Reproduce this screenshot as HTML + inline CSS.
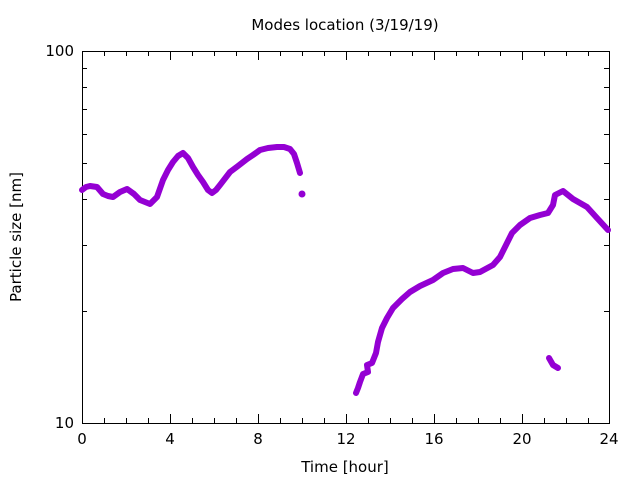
<!DOCTYPE html>
<html><head><meta charset="utf-8"><style>body{margin:0;background:#fff}svg{display:block}</style></head><body>
<svg width="640" height="480" xmlns="http://www.w3.org/2000/svg" font-family="DejaVu Sans, Liberation Sans, sans-serif" font-size="15">
<rect width="640" height="480" fill="#fff"/>
<g stroke="#000" stroke-width="1" fill="none">
<rect x="82.5" y="51.5" width="527" height="372"/>
<path d="
M82.5,423v-9M82.5,51v9M104.5,423v-5M104.5,51v5M126.5,423v-5M126.5,51v5M148.5,423v-5M148.5,51v5
M170.5,423v-9M170.5,51v9M192.5,423v-5M192.5,51v5M214.5,423v-5M214.5,51v5M236.5,423v-5M236.5,51v5
M258.5,423v-9M258.5,51v9M280.5,423v-5M280.5,51v5M302.5,423v-5M302.5,51v5M324.5,423v-5M324.5,51v5
M346.5,423v-9M346.5,51v9M368.5,423v-5M368.5,51v5M390.5,423v-5M390.5,51v5M412.5,423v-5M412.5,51v5
M434.5,423v-9M434.5,51v9M456.5,423v-5M456.5,51v5M478.5,423v-5M478.5,51v5M500.5,423v-5M500.5,51v5
M522.5,423v-9M522.5,51v9M544.5,423v-5M544.5,51v5M566.5,423v-5M566.5,51v5M588.5,423v-5M588.5,51v5
M82,311.5h5M609,311.5h-5M82,245.5h5M609,245.5h-5M82,199.5h5M609,199.5h-5M82,163.5h5M609,163.5h-5
M82,134.5h5M609,134.5h-5M82,109.5h5M609,109.5h-5M82,87.5h5M609,87.5h-5M82,68.5h5M609,68.5h-5"/>
</g>
<g fill="none" stroke="#9400d3" stroke-width="6" stroke-linecap="round" stroke-linejoin="round">
<polyline points="82,190 86,187 90,186 97,187 103,194 108,196 113,197 120,192 127,189 134,194 140,200 150,204 157,197 163,180 168,170 173,162 178,156 183,153 188,158 193,167 198,175 203,182 208,190 212,193 216,190 220,185 230,172 238,166 247,159 253,155 260,150 268,148 277,147 284,147 290,149 294,154 297,163 300,173"/>
<polyline points="356,393 358,388 360,382 363,374 368,372 367,365 372,363 376,353 378,342 382,328 387,318 393,308 402,299 410,292 420,286 433,280 443,273 453,269 463,268 473,273 480,272 493,265 500,257 507,243 512,233 520,225 530,218 540,215 548,213 553,205 555,195 563,191 573,199 587,207 597,218 608,230"/>
<polyline points="549,358 553,365 558,368"/>
</g>
<circle cx="302" cy="194" r="3.5" fill="#9400d3"/>
<g fill="#000">
<text x="345" y="30" text-anchor="middle">Modes location (3/19/19)</text>
<text x="74" y="428" text-anchor="end">10</text>
<text x="74" y="56" text-anchor="end">100</text>
<g text-anchor="middle">
<text x="82" y="444">0</text><text x="170" y="444">4</text><text x="258" y="444">8</text><text x="346" y="444">12</text><text x="434" y="444">16</text><text x="522" y="444">20</text><text x="609" y="444">24</text>
<text x="345" y="472">Time [hour]</text>
<text transform="translate(21,237) rotate(-90)">Particle size [nm]</text>
</g>
</g>
</svg>
</body></html>
